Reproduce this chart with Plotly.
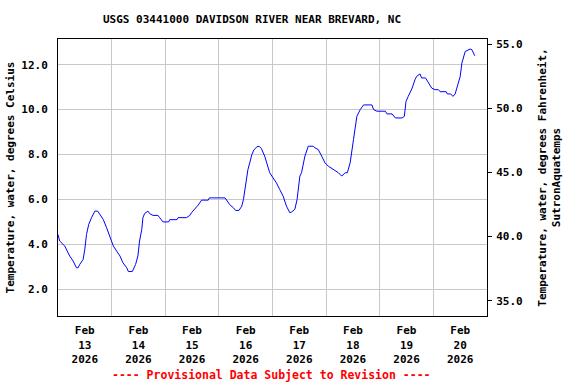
import plotly.graph_objects as go

times = [
    "2026-02-13 00:00", "2026-02-13 00:45", "2026-02-13 03:00", "2026-02-13 05:15", "2026-02-13 06:45",
    "2026-02-13 08:15", "2026-02-13 09:00", "2026-02-13 09:45", "2026-02-13 11:15", "2026-02-13 12:00",
    "2026-02-13 12:45", "2026-02-13 13:45", "2026-02-13 15:00", "2026-02-13 16:30", "2026-02-13 17:45",
    "2026-02-13 18:45", "2026-02-13 20:15", "2026-02-13 21:45", "2026-02-13 23:15", "2026-02-14 00:45",
    "2026-02-14 02:15", "2026-02-14 03:45", "2026-02-14 05:00", "2026-02-14 06:45", "2026-02-14 07:30",
    "2026-02-14 09:15", "2026-02-14 10:45", "2026-02-14 11:45", "2026-02-14 12:30", "2026-02-14 13:30",
    "2026-02-14 14:00", "2026-02-14 14:45", "2026-02-14 16:15", "2026-02-14 17:00", "2026-02-14 18:30",
    "2026-02-14 20:45", "2026-02-14 21:30", "2026-02-14 23:00", "2026-02-15 01:30", "2026-02-15 02:00",
    "2026-02-15 05:15", "2026-02-15 05:45", "2026-02-15 09:30", "2026-02-15 11:00", "2026-02-15 11:45",
    "2026-02-15 13:15", "2026-02-15 14:45", "2026-02-15 16:15", "2026-02-15 19:15", "2026-02-15 19:45",
    "2026-02-16 02:45", "2026-02-16 03:45", "2026-02-16 04:45", "2026-02-16 06:30", "2026-02-16 07:30",
    "2026-02-16 09:00", "2026-02-16 10:15", "2026-02-16 11:00", "2026-02-16 11:45", "2026-02-16 12:30",
    "2026-02-16 13:00", "2026-02-16 14:00", "2026-02-16 14:45", "2026-02-16 15:45", "2026-02-16 17:00",
    "2026-02-16 18:00", "2026-02-16 19:00", "2026-02-16 20:30", "2026-02-16 21:30", "2026-02-16 22:45",
    "2026-02-17 00:15", "2026-02-17 01:45", "2026-02-17 03:15", "2026-02-17 04:45", "2026-02-17 06:15",
    "2026-02-17 07:45", "2026-02-17 08:30", "2026-02-17 10:00", "2026-02-17 11:00", "2026-02-17 12:15",
    "2026-02-17 13:00", "2026-02-17 14:30", "2026-02-17 16:00", "2026-02-17 18:15", "2026-02-17 19:00",
    "2026-02-17 20:30", "2026-02-17 22:00", "2026-02-17 23:30", "2026-02-18 01:00", "2026-02-18 03:15",
    "2026-02-18 05:30", "2026-02-18 07:00", "2026-02-18 08:30", "2026-02-18 09:30", "2026-02-18 10:45",
    "2026-02-18 12:15", "2026-02-18 13:45", "2026-02-18 15:15", "2026-02-18 16:45", "2026-02-18 20:30",
    "2026-02-18 21:15", "2026-02-18 22:45", "2026-02-19 02:30", "2026-02-19 03:15", "2026-02-19 05:30",
    "2026-02-19 07:00", "2026-02-19 10:00", "2026-02-19 11:00", "2026-02-19 11:45", "2026-02-19 12:45",
    "2026-02-19 14:30", "2026-02-19 15:45", "2026-02-19 16:30", "2026-02-19 18:00", "2026-02-19 18:45",
    "2026-02-19 20:30", "2026-02-19 21:45", "2026-02-19 23:15", "2026-02-20 00:45", "2026-02-20 02:15",
    "2026-02-20 03:00", "2026-02-20 05:45", "2026-02-20 06:15", "2026-02-20 07:45", "2026-02-20 08:45",
    "2026-02-20 09:45", "2026-02-20 10:30", "2026-02-20 12:00", "2026-02-20 12:45", "2026-02-20 14:15",
    "2026-02-20 16:30", "2026-02-20 17:15", "2026-02-20 18:30",
]

temp_c = [
    4.44, 4.15, 3.93, 3.48, 3.26,
    2.96, 2.96, 3.11, 3.33, 3.78,
    4.44, 4.89, 5.19, 5.48, 5.48,
    5.33, 5.11, 4.74, 4.30, 3.93,
    3.70, 3.48, 3.19, 2.96, 2.79,
    2.79, 3.11, 3.48, 4.15, 4.67,
    5.19, 5.37, 5.48, 5.37, 5.29,
    5.29, 5.19, 5.00, 5.00, 5.10,
    5.10, 5.19, 5.19, 5.29, 5.41,
    5.56, 5.75, 5.97, 5.97, 6.07,
    6.07, 5.93, 5.78, 5.63, 5.51,
    5.51, 5.70, 6.00, 6.44, 6.96,
    7.33, 7.70, 8.00, 8.22, 8.34,
    8.37, 8.27, 7.93, 7.63, 7.19,
    6.96, 6.74, 6.44, 6.15, 5.70,
    5.41, 5.44, 5.56, 6.00, 7.04,
    7.19, 7.93, 8.37, 8.37, 8.30,
    8.22, 7.93, 7.63, 7.48, 7.33,
    7.19, 7.04, 7.19, 7.19, 7.63,
    8.67, 9.70, 10.00, 10.21, 10.21,
    10.00, 9.93, 9.93, 9.81, 9.81,
    9.63, 9.63, 9.70, 10.37, 10.59,
    10.96, 11.33, 11.48, 11.59, 11.41,
    11.41, 11.19, 10.96, 10.89, 10.89,
    10.80, 10.80, 10.70, 10.70, 10.59,
    10.70, 10.96, 11.48, 12.07, 12.59,
    12.70, 12.67, 12.40,
]

day_noons = ["2026-02-13 12:00", "2026-02-14 12:00", "2026-02-15 12:00", "2026-02-16 12:00",
             "2026-02-17 12:00", "2026-02-18 12:00", "2026-02-19 12:00", "2026-02-20 12:00"]
day_labels = ["Feb<br>13<br>2026", "Feb<br>14<br>2026", "Feb<br>15<br>2026", "Feb<br>16<br>2026",
              "Feb<br>17<br>2026", "Feb<br>18<br>2026", "Feb<br>19<br>2026", "Feb<br>20<br>2026"]
c_ticks = [2.0, 4.0, 6.0, 8.0, 10.0, 12.0]
f_ticks = [35.0, 40.0, 45.0, 50.0, 55.0]

FONT = "DejaVu Sans Mono"
tf = dict(family=FONT, size=11, color="black", weight="bold")

fig = go.Figure()
fig.add_trace(go.Scatter(x=times, y=temp_c, mode="lines",
                         line=dict(color="#0000FF", width=1), showlegend=False,
                         hoverinfo="x+y"))
fig.add_trace(go.Scatter(x=[times[0]], y=[None], yaxis="y2", mode="lines",
                         showlegend=False, hoverinfo="skip"))

fig.update_layout(
    width=576, height=384,
    margin=dict(l=58, r=89, t=39, b=68, autoexpand=False),
    paper_bgcolor="white", plot_bgcolor="white",
    xaxis=dict(
        type="date", automargin=False,
        range=["2026-02-13 00:00", "2026-02-21 00:00"],
        tickmode="array", tickvals=day_noons, ticktext=day_labels,
        showgrid=False, ticks="", tickfont=tf,
        showline=True, linecolor="black", linewidth=1, mirror=True,
        minor=dict(tick0="2026-02-13", dtick=86400000, showgrid=True,
                   gridcolor="#C8C8C8", gridwidth=1, ticks=""),
        zeroline=False, ticklabelstandoff=4,
    ),
    yaxis=dict(
        automargin=False,
        range=[0.81, 13.146],
        tickmode="array", tickvals=c_ticks, tickformat=".1f",
        showgrid=True, gridcolor="#C8C8C8", gridwidth=1,
        ticks="", tickfont=tf, ticklabelstandoff=7,
        showline=True, linecolor="black", linewidth=1, mirror=True,
        zeroline=False,
        title=dict(text="Temperature, water, degrees Celsius", font=tf, standoff=4),
    ),
    yaxis2=dict(
        automargin=False,
        overlaying="y", side="right", anchor="x",
        range=[33.81, 55.39],
        tickmode="array", tickvals=f_ticks, tickformat=".1f",
        showgrid=False, zeroline=False,
        ticks="outside", ticklen=4, tickcolor="black", tickwidth=1,
        tickfont=tf, ticklabelstandoff=2,
        title=dict(text="Temperature, water, degrees Fahrenheit,<br>SutronAquatemps",
                   font=tf, standoff=16),
    ),
    annotations=[
        dict(text="USGS 03441000 DAVIDSON RIVER NEAR BREVARD, NC", xref="paper", yref="paper",
             x=(252 - 58) / 429, y=1 + (39 - 20) / 277, xanchor="center", yanchor="middle",
             showarrow=False, font=dict(family=FONT, size=11, color="black", weight="bold")),
        dict(text="---- Provisional Data Subject to Revision ----", xref="paper", yref="paper",
             x=(271 - 58) / 429, y=-(375 - 316) / 277, xanchor="center", yanchor="middle",
             showarrow=False, font=dict(family=FONT, size=11.5, color="#FF0000", weight="bold")),
    ],
)

fig.write_html("out.html", config={"displayModeBar": False},
               post_script="document.body.style.margin='0';document.body.style.overflow='hidden';")
